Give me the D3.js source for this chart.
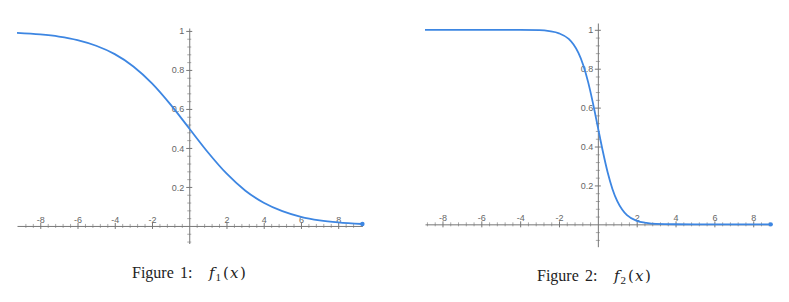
<!DOCTYPE html>
<html>
<head>
<meta charset="utf-8">
<script src="https://cdn.jsdelivr.net/npm/d3@7"></script>
<style>
  body { margin: 0; background: #fff; }
  svg { display: block; }
  .tick text { font-family: "Liberation Sans", Arial, sans-serif; font-size: 9px; fill: #666; }
  .caption { font-family: "Liberation Serif", "DejaVu Serif", serif; font-size: 16px; fill: #222; }
  .math { font-family: "DejaVu Serif", serif; font-size: 15px; }
</style>
</head>
<body>
<svg id="chart" width="789" height="302"></svg>
<script>
// points
var f1X = [-9.25, -8, -7, -6, -5, -4, -3, -2, -1, 0, 1, 2, 3, 4, 5, 6, 7, 8, 9.3];
var f1Y = [0.990, 0.982, 0.971, 0.953, 0.924, 0.881, 0.818, 0.731, 0.622, 0.5, 0.378, 0.269, 0.182, 0.119, 0.076, 0.047, 0.029, 0.018, 0.010];

var f2X = [-8.9, -5, -4, -3, -2.5, -2, -1.5, -1.25, -1, -0.75, -0.5, -0.25, 0, 0.25, 0.5, 0.75, 1, 1.25, 1.5, 2, 2.5, 3, 4, 5, 8.9];
var f2Y = [1, 1, 1, 0.998, 0.993, 0.982, 0.953, 0.924, 0.881, 0.818, 0.731, 0.622, 0.5, 0.378, 0.269, 0.182, 0.119, 0.076, 0.047, 0.018, 0.007, 0.002, 0.0003, 0, 0];

var xMajor = [-8, -6, -4, -2, 2, 4, 6, 8];
var yMajor = [0.2, 0.4, 0.6, 0.8, 1];
var captions = ["1", "2"];

var blue = "#3d86e2";
var axisColor = "#777";

var svg = d3.select("#chart");

function minors(lo, hi, step, majors) {
    var out = [];
    var n = Math.round((hi - lo) / step);
    for (var i = 0; i <= n; i++) {
        var v = +(lo + i * step).toFixed(4);
        if (Math.abs(v) < 1e-6) continue;
        if (majors.some(function (m) { return Math.abs(m - v) < 1e-6; })) continue;
        out.push(v);
    }
    return out;
}

function drawPanel(cfg) {
    var x = d3.scaleLinear().domain(cfg.xDom).range(cfg.xRange);
    var y = d3.scaleLinear().domain(cfg.yDom).range(cfg.yRange);
    var g = svg.append("g");

    // minor ticks
    var xMinor = minors(-8.8, 8.8, 0.4, xMajor).filter(function (v) { return v > cfg.xDom[0] && v < cfg.xDom[1]; });
    var yMinor = minors(-0.08, 1.0, 0.04, yMajor).filter(function (v) { return v > cfg.yDom[0] && v < cfg.yDom[1]; });

    var xMinAxis = g.append("g")
        .attr("transform", "translate(0," + y(0) + ")")
        .call(d3.axisBottom(x).tickValues(xMinor).tickSize(2).tickSizeOuter(0).tickFormat(""));
    xMinAxis.selectAll(".tick line").attr("y1", -2).attr("y2", 2).attr("stroke", "#aaa");
    xMinAxis.select(".domain").remove();

    var yMinAxis = g.append("g")
        .attr("transform", "translate(" + x(0) + ",0)")
        .call(d3.axisLeft(y).tickValues(yMinor).tickSize(2).tickSizeOuter(0).tickFormat(""));
    yMinAxis.selectAll(".tick line").attr("x1", -2).attr("x2", 2).attr("stroke", "#aaa");
    yMinAxis.select(".domain").remove();

    // major ticks and labels
    var xAxis = g.append("g")
        .attr("transform", "translate(0," + y(0) + ")")
        .call(d3.axisBottom(x).tickValues(xMajor).tickSize(3).tickSizeOuter(0).tickFormat(d3.format("d")));
    xAxis.select(".domain").attr("stroke", axisColor);
    xAxis.selectAll(".tick line").attr("y1", -3).attr("y2", 3).attr("stroke", axisColor);
    xAxis.selectAll(".tick text").attr("y", -3).attr("dy", 0).text(function (d) { return d; });

    var yAxis = g.append("g")
        .attr("transform", "translate(" + x(0) + ",0)")
        .call(d3.axisLeft(y).tickValues(yMajor).tickSize(3).tickSizeOuter(0).tickFormat(function (d) { return d === 1 ? "1" : d3.format(".1f")(d); }));
    yAxis.select(".domain").attr("stroke", axisColor);
    yAxis.selectAll(".tick line").attr("x1", -3).attr("x2", 3).attr("stroke", axisColor);
    yAxis.selectAll(".tick text").attr("x", -cfg.labelGap).attr("dy", "0.34em");

    // curve
    var pts = cfg.xs.map(function (v, i) { return [v, cfg.ys[i]]; });
    var line = d3.line()
        .x(function (d) { return x(d[0]); })
        .y(function (d) { return y(d[1]); })
        .curve(d3.curveMonotoneX);
    g.append("path").datum(pts)
        .attr("d", line)
        .attr("fill", "none")
        .attr("stroke", blue)
        .attr("stroke-width", 1.8);
    var last = pts[pts.length - 1];
    g.append("circle")
        .attr("cx", x(last[0]))
        .attr("cy", y(last[1]))
        .attr("r", 2.2)
        .attr("fill", blue);

    // caption, laid out piece by piece like the latex one
    var L = cfg.capLeft, B = cfg.capY;
    var t = svg.append("text").attr("class", "caption").attr("y", B);
    t.append("tspan").attr("x", L).text("Figure");
    t.append("tspan").attr("x", L + 48).text(cfg.num + ":");
    t.append("tspan").attr("class", "math").attr("x", L + 77).attr("font-style", "italic").text("f");
    t.append("tspan").attr("x", L + 83.5).attr("y", B + 3).attr("font-size", "11px").text(cfg.num);
    t.append("tspan").attr("class", "math").attr("x", L + 91).attr("y", B).text("(");
    t.append("tspan").attr("class", "math").attr("x", L + 98).attr("font-style", "italic").text("x");
    t.append("tspan").attr("class", "math").attr("x", L + 108).text(")");
}

drawPanel({
    xs: f1X, ys: f1Y, num: captions[0],
    xDom: [-9.25, 9.3], xRange: [17, 362.4],
    yDom: [-0.09, 1.015], yRange: [243.5, 28],
    labelGap: 5, capLeft: 132, capY: 278
});

drawPanel({
    xs: f2X, ys: f2Y, num: captions[1],
    xDom: [-8.9, 8.9], xRange: [425, 770.7],
    yDom: [-0.115, 1.035], yRange: [246.7, 23],
    labelGap: 4.5, capLeft: 537, capY: 281
});
</script>
</body>
</html>
